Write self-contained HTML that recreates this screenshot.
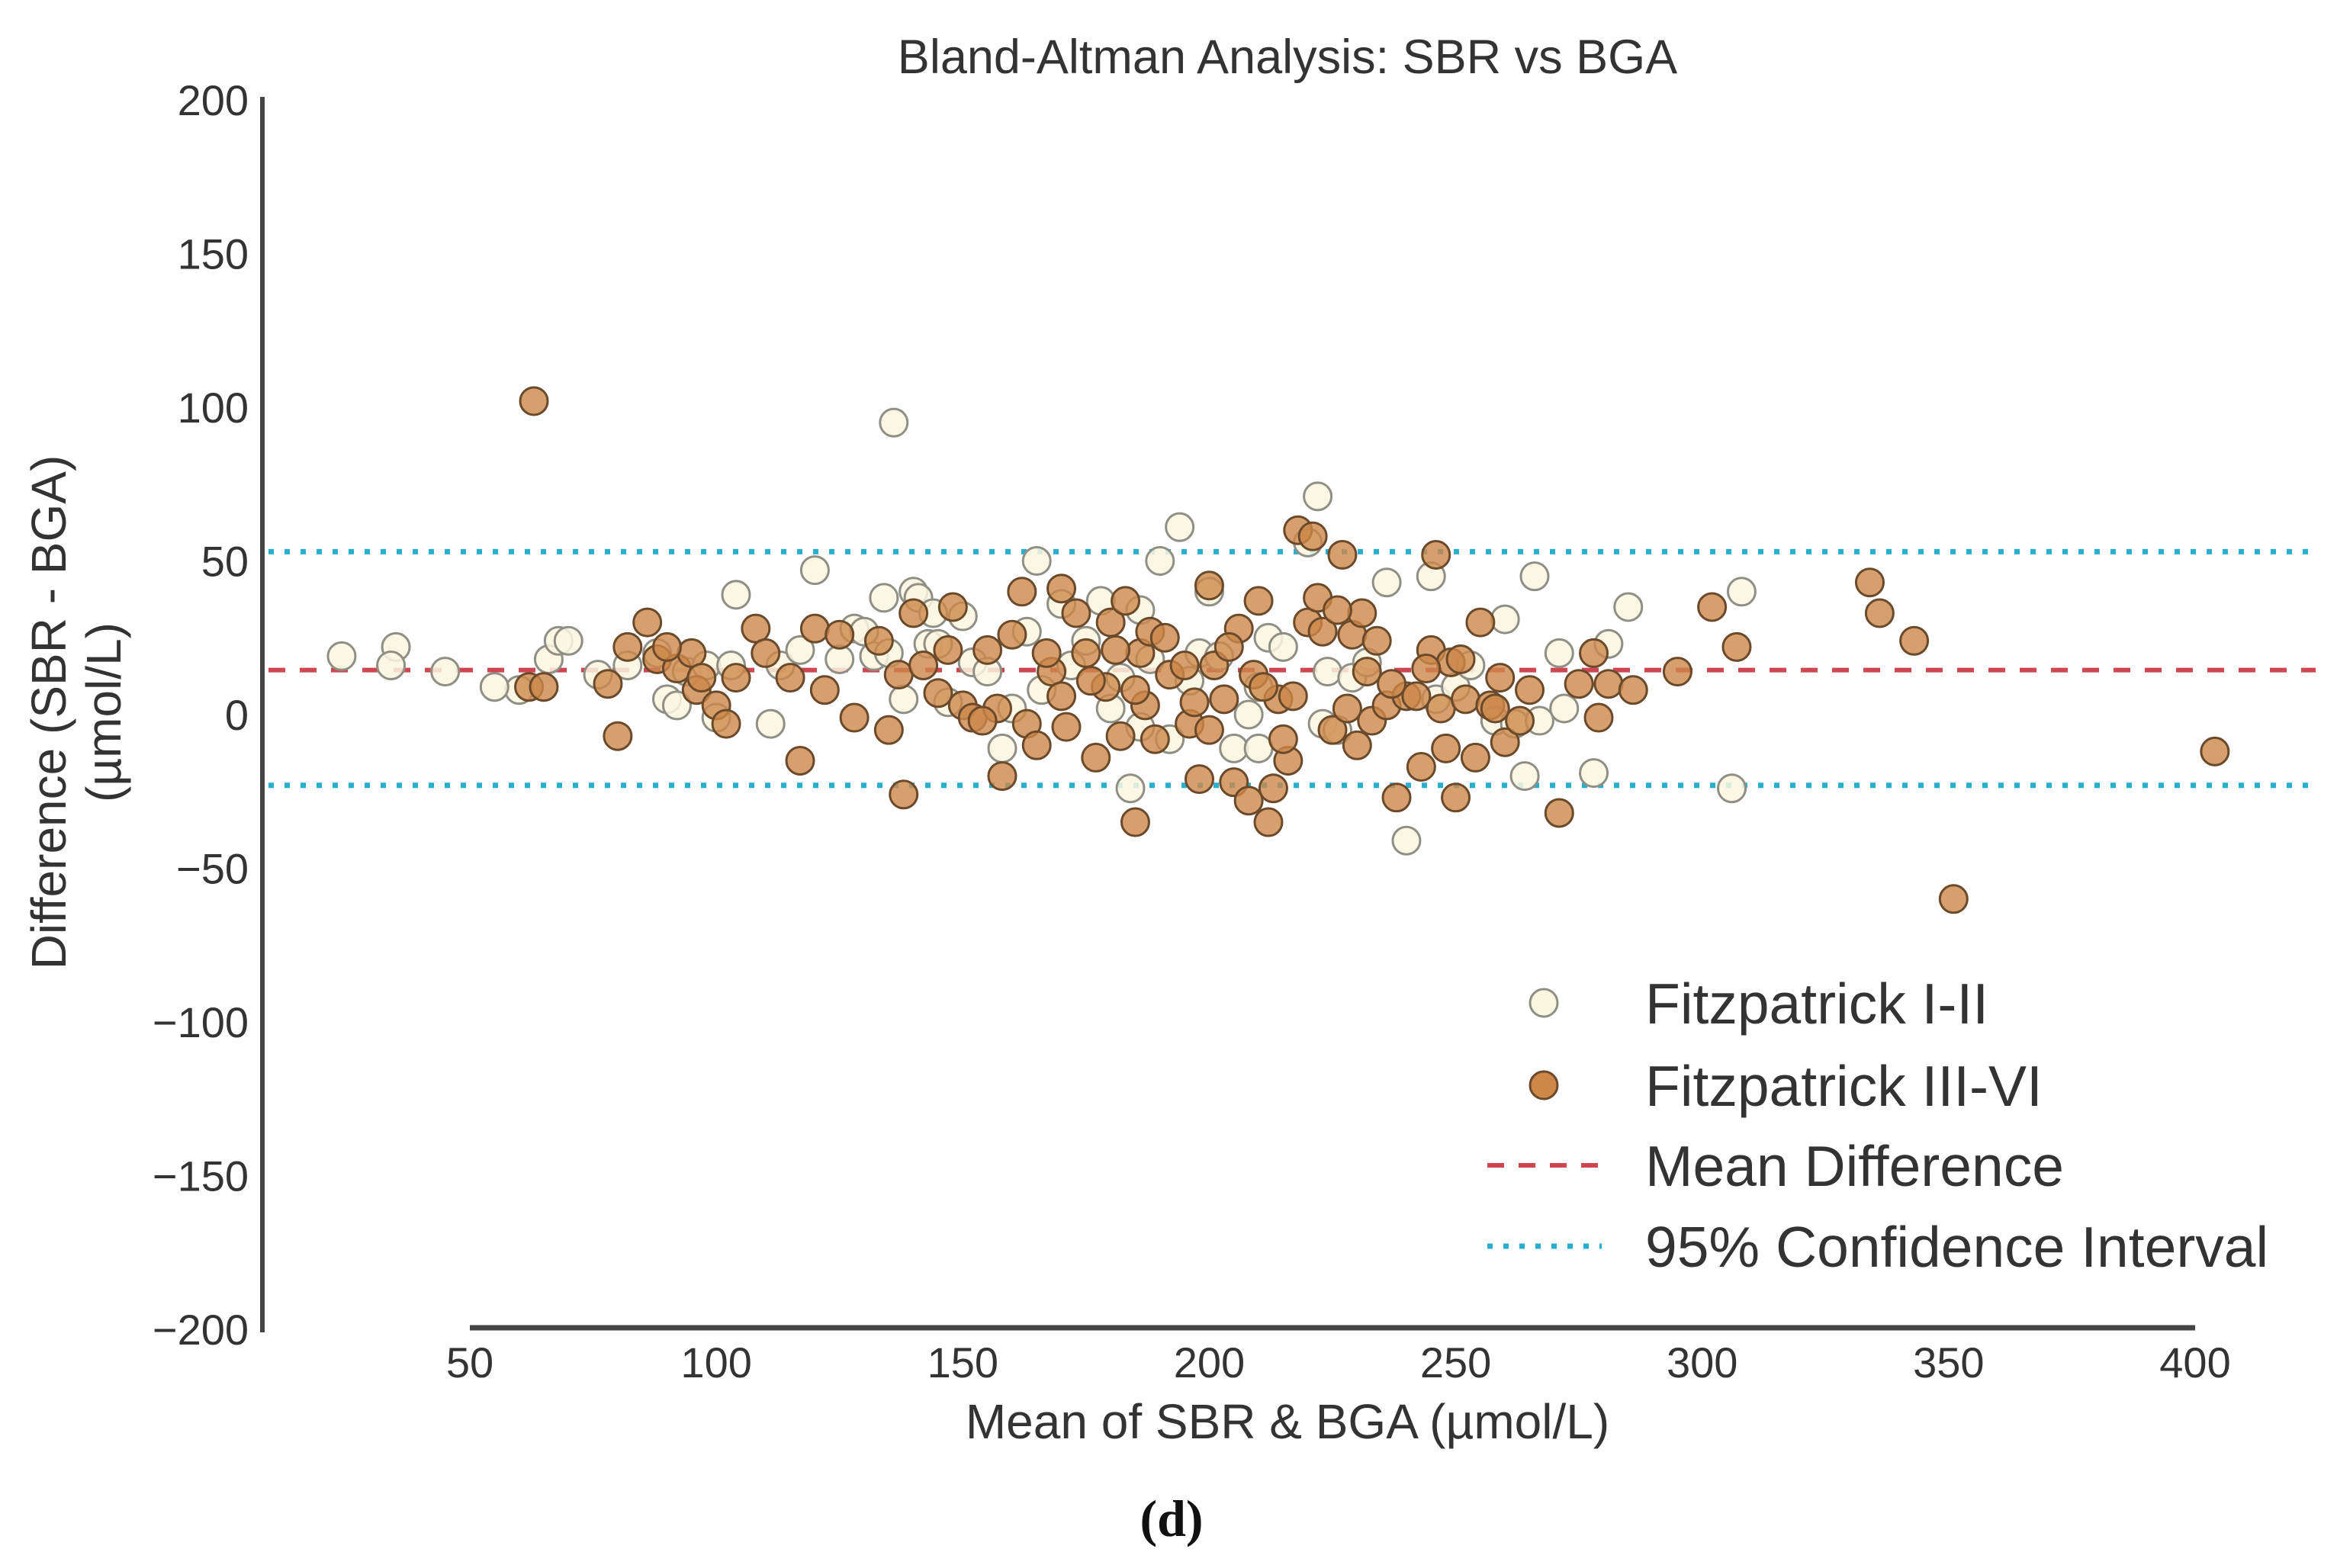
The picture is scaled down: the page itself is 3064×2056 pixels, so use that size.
<!DOCTYPE html>
<html><head><meta charset="utf-8"><style>
html,body{margin:0;padding:0;background:#fff;}
svg{display:block;font-family:"Liberation Sans",Arial,sans-serif;}
</style></head><body>
<svg id="chart" width="3064" height="2056" viewBox="0 0 3064 2056" xmlns="http://www.w3.org/2000/svg">
<rect width="3064" height="2056" fill="#fff"/>
<text x="1688" y="96" font-size="63" fill="#333" text-anchor="middle">Bland-Altman Analysis: SBR vs BGA</text>
<g id="lines"></g>
<g id="points"></g>
<g id="axes"></g>
<text x="1688" y="1886" font-size="64" fill="#333" text-anchor="middle">Mean of SBR &amp; BGA (µmol/L)</text>
<text transform="translate(86,934) rotate(-90)" font-size="64" fill="#333" text-anchor="middle">Difference (SBR - BGA)</text>
<text transform="translate(158,934) rotate(-90)" font-size="64" fill="#333" text-anchor="middle">(µmol/L)</text>
<g>
<circle cx="2024" cy="1315" r="18" fill="#faf6e0" stroke="#8f8f86" stroke-width="3"/>
<text x="2157" y="1342" font-size="75" fill="#333">Fitzpatrick I-II</text>
<circle cx="2024" cy="1423" r="18" fill="#cd8748" stroke="#6b4a2b" stroke-width="3"/>
<text x="2157" y="1450" font-size="75" fill="#333">Fitzpatrick III-VI</text>
<line x1="1950" y1="1528" x2="2100" y2="1528" stroke="#cf4650" stroke-width="6" stroke-dasharray="22 19"/>
<text x="2157" y="1555" font-size="75" fill="#333">Mean Difference</text>
<line x1="1950" y1="1634" x2="2100" y2="1634" stroke="#2aaed0" stroke-width="7" stroke-dasharray="7 14"/>
<text x="2157" y="1661" font-size="75" fill="#333">95% Confidence Interval</text>
</g>
<text x="1536" y="2014" font-size="68" font-weight="bold" fill="#111" text-anchor="middle" font-family="Liberation Serif,serif">(d)</text>
</svg>
<script>
const xTicks=[50,100,150,200,250,300,350,400];
const yTicks=[200,150,100,50,0,-50,-100,-150,-200];
const meanDiff=14.5;
const ciUpper=53;
const ciLower=-23;
const lightX=[24,35,34,45,60,66,68,70,76,88,90,92,94,98,100,103,104,111,113,120,125,128,130,132,134,135,136,138,140,141,143,145,147,150,152,155,158,160,163,165,166,170,172,175,178,180,182,184,186,188,190,192,194,196,198,200,202,205,208,210,212,215,220,222,223,224,226,229,232,236,240,245,246,250,253,258,260,262,264,266,267,271,272,278,281,285,306,308,55,82,117,144,186,210];
const lightY=[19,22,16,14,8,18,24,24,13,20,5,3,14,16,-1,16,39,-3,16,47,18,28,27,19,38,20,95,5,40,38,23,23,4,32,17,14,-11,2,27,50,8,36,16,24,37,2,12,-24,-4,18,50,-8,61,11,20,40,19,-11,0,-11,25,22,56,71,-3,14,-5,12,17,43,-41,45,5,9,16,-2,31,-3,-20,45,-2,20,2,-19,23,35,-24,40,9,16,21,33,34,9];
const darkX=[63,62,65,78,80,82,86,88,92,95,96,100,102,104,108,110,115,117,120,122,125,128,133,135,137,138,140,142,145,148,150,152,155,158,160,162,163,165,168,170,171,173,175,177,179,180,182,183,185,186,188,189,192,195,196,198,200,201,203,205,206,208,209,210,212,213,214,216,218,220,221,222,223,225,227,228,229,231,232,233,234,236,238,240,242,243,245,246,247,248,249,250,252,254,255,257,259,260,263,265,271,275,278,279,281,286,295,302,307,334,336,343,351,404,90,97,147,157,167,176,181,187,191,197,204,211,217,226,237,244,251,258,170,154,185,200,215,230];
const darkY=[102,9,9,10,-7,22,30,18,15,20,8,3,-3,12,28,20,12,-15,28,8,26,-1,24,-5,13,-26,33,16,7,35,3,-1,21,-20,26,40,-3,-10,14,41,-4,33,20,-14,9,30,-7,37,-35,20,27,-8,13,16,-3,-21,42,16,5,-22,28,-28,13,37,-35,-24,5,-15,60,30,58,38,27,-5,52,2,26,33,14,-2,24,3,-27,6,6,-17,21,52,2,-11,17,-27,5,-14,30,3,12,-9,-2,8,-32,10,20,-1,10,8,14,35,22,43,33,24,-60,-12,22,12,21,2,20,11,21,3,25,4,22,9,6,34,10,15,18,2,6,-2,8,-5,-8,-10];

const NS="http://www.w3.org/2000/svg";
const sx=v=>616+(v-50)*(2878-616)/350;
const sy=v=>937-v*(1743-131)/400;
function mk(tag,attrs,parent){const e=document.createElementNS(NS,tag);for(const k in attrs)e.setAttribute(k,attrs[k]);parent.appendChild(e);return e;}
const axes=document.getElementById('axes'),lines=document.getElementById('lines'),pts=document.getElementById('points');

let l=mk('line',{x1:352,x2:3036,y1:sy(ciUpper),y2:sy(ciUpper),stroke:'#2aaed0','stroke-width':7,'stroke-dasharray':'7 14'},lines);


l=mk('line',{x1:352,x2:3036,y1:sy(ciLower),y2:sy(ciLower),stroke:'#2aaed0','stroke-width':7,'stroke-dasharray':'7 14'},lines);


l=mk('line',{x1:352,x2:3036,y1:sy(meanDiff),y2:sy(meanDiff),stroke:'#cf4650','stroke-width':6,'stroke-dasharray':'22 19'},lines);



for(let i=0;i<lightX.length;i++){
  const c=mk('circle',{cx:sx(lightX[i]),cy:sy(lightY[i]),r:18,fill:'#faf6e0','fill-opacity':0.85,stroke:'#8f8f86','stroke-width':3},pts);
  
  
}
for(let i=0;i<darkX.length;i++){
  const c=mk('circle',{cx:sx(darkX[i]),cy:sy(darkY[i]),r:18,fill:'#cd8748','fill-opacity':0.8,stroke:'#6b4a2b','stroke-width':3},pts);
  
  
}

let a=mk('line',{x1:344,x2:344,y1:sy(200)-4,y2:sy(-200)+4,stroke:'#444','stroke-width':6},axes);


a=mk('line',{x1:sx(50),x2:sx(400),y1:1741,y2:1741,stroke:'#444','stroke-width':7},axes);


yTicks.forEach(v=>{
  const t=mk('text',{x:326,y:sy(v)+20,'font-size':56,fill:'#333','text-anchor':'end'},axes);
  t.textContent=(v<0?'\u2212':'')+Math.abs(v);
  
  
});
xTicks.forEach(v=>{
  const t=mk('text',{x:sx(v),y:1806,'font-size':56,fill:'#333','text-anchor':'middle'},axes);
  t.textContent=v;
  
  
});
</script>
</body></html>
